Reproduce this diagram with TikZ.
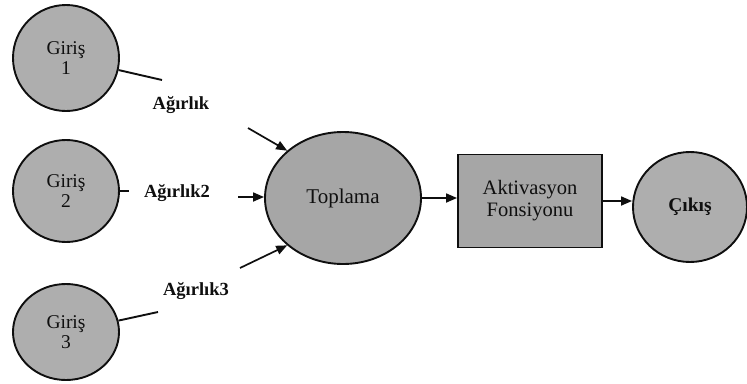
\documentclass[tikz,border=0pt]{standalone}
\usepackage{fontspec}
\setmainfont{Liberation Serif}
\usetikzlibrary{shapes.geometric,arrows.meta}
\definecolor{nodefill}{RGB}{174,174,174}
\definecolor{sumfill}{RGB}{166,166,166}
\definecolor{inkc}{RGB}{15,15,15}
\tikzset{
  inputnode/.style={ellipse, draw=inkc, line width=1.9pt, fill=nodefill,
    inner sep=0pt, align=center, font=\fontsize{19.5}{20}\selectfont, text=inkc},
  sumnode/.style={ellipse, draw=inkc, line width=1.9pt, fill=sumfill,
    inner sep=0pt, minimum width=156pt, minimum height=132pt,
    font=\fontsize{21}{22}\selectfont, text=inkc},
  actbox/.style={rectangle, draw=inkc, line width=1.9pt, fill=sumfill,
    inner sep=0pt, minimum width=144pt, minimum height=93pt, align=center,
    font=\fontsize{20.5}{22}\selectfont, text=inkc},
  weightlabel/.style={font=\bfseries\fontsize{18.5}{20}\selectfont, text=inkc, inner sep=1pt},
  wire/.style={draw=inkc, line width=1.9pt},
  arr/.style={draw=inkc, line width=1.7pt, -{Triangle[length=11pt,width=9pt]}}
}
\begin{document}
\begin{tikzpicture}[x=1pt,y=-1pt]
  \useasboundingbox[fill=white] (0,0) rectangle (747,383);

  % inputs
  \node[inputnode, minimum width=106pt, minimum height=106pt] (g1) at (66,58) {Giriş\\1};
  \node[inputnode, minimum width=106pt, minimum height=102pt] (g2) at (66,191) {Giriş\\2};
  \node[inputnode, minimum width=106pt, minimum height=96pt] (g3) at (66,332) {Giriş\\3};

  % summation, activation, output
  \node[sumnode] (sum) at (343,198) {Toplama};
  \node[actbox] (act) at (530,201) {Aktivasyon\\Fonsiyonu};
  \node[inputnode, minimum width=114pt, minimum height=110pt,
        font=\bfseries\fontsize{19.5}{20}\selectfont] (out) at (690,207) {Çıkış};

  % weight labels
  \node[weightlabel] (w1) at (181,105) {Ağırlık};
  \node[weightlabel] (w2) at (177,193) {Ağırlık2};
  \node[weightlabel] (w3) at (196,291) {Ağırlık3};

  % free ends of the input wires and the weight arrows
  \coordinate (e1) at (162,80);
  \coordinate (e2) at (129,191);
  \coordinate (e3) at (158,312);
  \coordinate (s1) at (248,128);
  \coordinate (s2) at (238,197);
  \coordinate (s3) at (240,268);

  \draw[wire] (g1) -- (e1);
  \draw[wire] (g2) -- (e2);
  \draw[wire] (g3) -- (e3);

  \draw[arr] (s1) -- (sum.north west);
  \draw[arr] (s2) -- (sum.west |- s2);
  \draw[arr] (s3) -- (sum.south west);

  \draw[arr] (sum.east) -- (sum.east -| act.west);
  \draw[arr] (act.east) -- (act.east -| out.west);
\end{tikzpicture}
\end{document}
